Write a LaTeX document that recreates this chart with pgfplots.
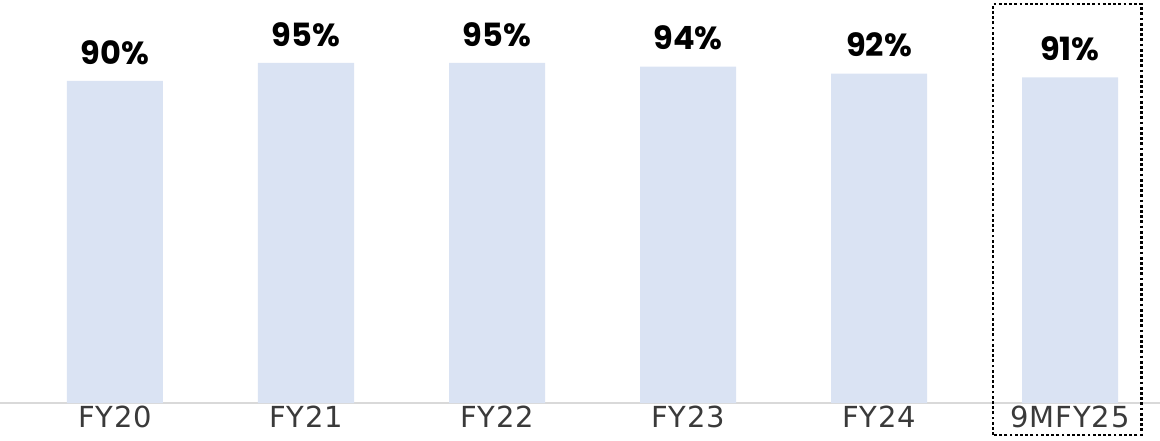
\documentclass[border=0pt]{standalone}
\usepackage{pgfplots}
\pgfplotsset{compat=1.18}
\usepackage{fontspec}
\setmainfont{DejaVu Sans}[LetterSpace=3]
\newfontfamily\valfont{Poppins}
\definecolor{barblue}{HTML}{DAE3F3}
\definecolor{axgray}{HTML}{D9D9D9}
\definecolor{tickgray}{HTML}{3A3A3A}
\begin{document}
\begin{tikzpicture}
\begin{axis}[
  at={(0,0)}, anchor=south west,
  scale only axis,
  width=1160pt, height=403pt,
  xmin=-0.602, xmax=5.471,
  ymin=0, ymax=112.6,
  axis y line=none,
  axis x line=bottom,
  x axis line style={draw=axgray, line width=1.2pt, -},
  xtick=data,
  xticklabels={FY20,FY21,FY22,FY23,FY24,9MFY25},
  xtick style={draw=none},
  xticklabel style={font=\fontsize{29}{29}\selectfont, text=tickgray, yshift=5pt},
  clip=false,
  ybar, bar width=96pt,
  nodes near coords={\pgfmathprintnumber[assume math mode=true]{\pgfplotspointmeta}\%},
  nodes near coords style={font=\valfont\bfseries\fontsize{32}{32}\selectfont, text=black, yshift=13pt},
]
\addplot[fill=barblue, draw=none] coordinates {(0,90) (1,95) (2,95) (3,94) (4,92) (5,91)};
\draw[black, line width=2.8pt, dash pattern=on 2.8pt off 2.4pt] (axis cs:4.597,-8.94) rectangle (axis cs:5.372,111.5);
\end{axis}
\pgfresetboundingbox
\path (0,-37pt) rectangle (1160pt,403pt);
\end{tikzpicture}
\end{document}
